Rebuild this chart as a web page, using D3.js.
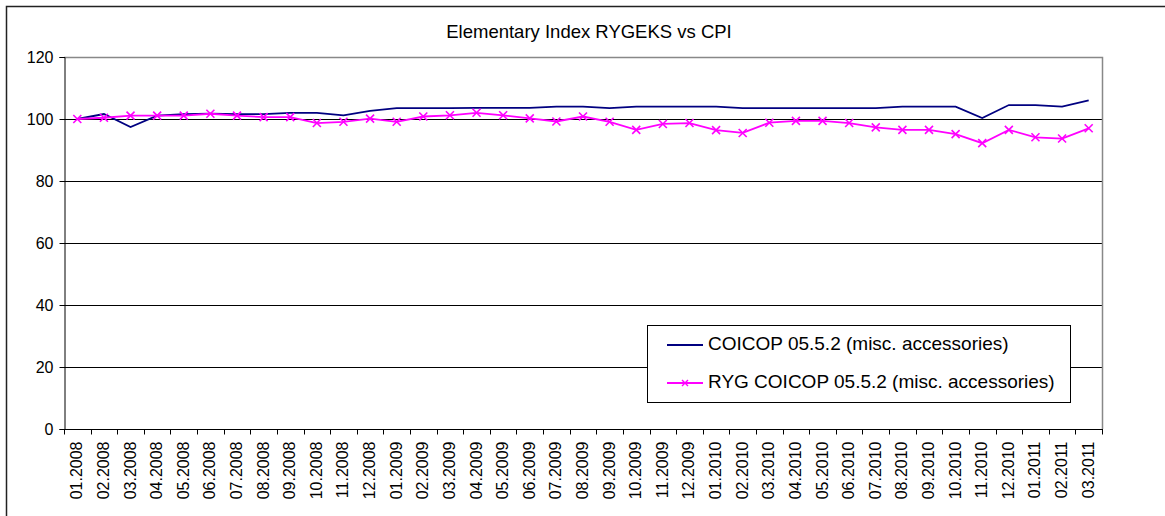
<!DOCTYPE html>
<html><head><meta charset="utf-8">
<script src="https://cdn.jsdelivr.net/npm/d3@7"></script>
<style>body{margin:0;background:#fff}svg{display:block;font-family:"Liberation Sans",Arial,sans-serif}</style>
</head><body><svg id="c" width="1165" height="516"></svg>
<script>
const categories = ["01.2008","02.2008","03.2008","04.2008","05.2008","06.2008","07.2008","08.2008","09.2008","10.2008","11.2008","12.2008",
"01.2009","02.2009","03.2009","04.2009","05.2009","06.2009","07.2009","08.2009","09.2009","10.2009","11.2009","12.2009",
"01.2010","02.2010","03.2010","04.2010","05.2010","06.2010","07.2010","08.2010","09.2010","10.2010","11.2010","12.2010",
"01.2011","02.2011","03.2011"];
const coicop = [100,101.6,97.4,101.1,101.6,101.7,101.6,101.6,102.0,102.0,101.2,102.6,
103.5,103.5,103.5,103.6,103.6,103.6,104.0,104.0,103.5,104.0,104.0,104.0,
104.0,103.5,103.5,103.5,103.5,103.5,103.5,104.0,104.0,104.0,100.3,104.5,104.5,104.0,106.0];
const ryg = [100,100.4,101.1,101.1,101.1,101.7,101.1,100.6,100.6,98.7,99.1,100.1,
99.1,100.8,101.2,102.0,101.2,100.2,99.2,100.8,99.1,96.5,98.4,98.7,
96.4,95.5,98.8,99.4,99.4,98.7,97.3,96.5,96.5,95.1,92.2,96.5,94.1,93.7,97.0];
const yTicks = [0,20,40,60,80,100,120];
const seriesNames = ["COICOP 05.5.2 (misc. accessories)","RYG COICOP 05.5.2 (misc. accessories)"];
const title = "Elementary Index RYGEKS vs CPI";

const svg = d3.select("#c");
const L=64, T=57, R=1102, B=429;
// outer frame
svg.append("rect").attr("x",6.5).attr("y",6.5).attr("width",1200).attr("height",600)
  .attr("fill","#fff").attr("stroke","#222").attr("stroke-width",1.5);

const x = d3.scaleBand().domain(categories).range([L,R]).padding(0);
const y = d3.scaleLinear().domain([0,120]).range([B,T]);

// gridlines
svg.append("g").selectAll("line").data(yTicks.filter(d=>d>0 && d<120)).join("line")
  .attr("x1",L).attr("x2",R).attr("y1",d=>Math.round(y(d))+0.5).attr("y2",d=>Math.round(y(d))+0.5)
  .attr("stroke","#000").attr("stroke-width",1);
// plot border
svg.append("path").attr("d",`M${L},${T+0.5}H${R+0.5}V${B}`).attr("fill","none").attr("stroke","#888").attr("stroke-width",1.5);

// y axis
const yAxis = d3.axisLeft(y).tickValues(yTicks).tickSize(5).tickPadding(6);
const gy = svg.append("g").attr("transform",`translate(${L+0.5},0)`).call(yAxis);
gy.select(".domain").attr("stroke","#000");
gy.selectAll(".tick line").attr("stroke","#000");
gy.selectAll("text").attr("font-size","16px").attr("fill","#000").attr("font-family","Liberation Sans, Arial, sans-serif");

// x axis with ticks at category boundaries
const gx = svg.append("g").attr("transform",`translate(0,${B+0.5})`);
gx.append("line").attr("x1",L).attr("x2",R+1).attr("stroke","#000");
const bounds = categories.map(c=>x(c)).concat([x(categories[categories.length-1])+x.bandwidth()]);
gx.selectAll("line.t").data(bounds).join("line").attr("class","t")
  .attr("x1",d=>Math.round(d)+0.5).attr("x2",d=>Math.round(d)+0.5).attr("y1",0).attr("y2",5).attr("stroke","#000");
gx.selectAll("text").data(categories).join("text")
  .attr("transform",d=>`translate(${x(d)+x.bandwidth()/2+5},12) rotate(-90)`)
  .attr("text-anchor","end").attr("font-size","16px").attr("fill","#000").text(d=>d);

// lines
const cx = c=>x(c)+x.bandwidth()/2;
const line1 = d3.line().x((d,i)=>cx(categories[i])).y(d=>y(d));
svg.append("path").datum(coicop).attr("d",line1).attr("fill","none").attr("stroke","#000080").attr("stroke-width",1.8);
svg.append("path").datum(ryg).attr("d",line1).attr("fill","none").attr("stroke","#FF00FF").attr("stroke-width",1.8);
const mk = 4;
svg.append("g").selectAll("path").data(ryg).join("path")
  .attr("d",(d,i)=>{const px=cx(categories[i]),py=y(d);return `M${px-mk},${py-mk}L${px+mk},${py+mk}M${px-mk},${py+mk}L${px+mk},${py-mk}`;})
  .attr("stroke","#FF00FF").attr("stroke-width",1.6).attr("fill","none");

// title
svg.append("text").attr("x",589).attr("y",38).attr("text-anchor","middle").attr("font-size","18.5px").attr("fill","#000").text(title);

// legend
const lg = svg.append("g");
lg.append("rect").attr("x",647.5).attr("y",325.5).attr("width",423).attr("height",77).attr("fill","#fff").attr("stroke","#000").attr("stroke-width",1);
const colors = ["#000080","#FF00FF"];
const ly = [345,383];
seriesNames.forEach((n,i)=>{
  lg.append("line").attr("x1",667).attr("x2",703).attr("y1",ly[i]).attr("y2",ly[i]).attr("stroke",colors[i]).attr("stroke-width",1.8);
  if(i===1){const m=3;lg.append("path").attr("d",`M${685-m},${ly[i]-m}L${685+m},${ly[i]+m}M${685-m},${ly[i]+m}L${685+m},${ly[i]-m}`).attr("stroke",colors[i]).attr("stroke-width",1.4);}
  lg.append("text").attr("x",708).attr("y",ly[i]+5).attr("font-size","19px").attr("fill","#000").text(n);
});
</script></body></html>
